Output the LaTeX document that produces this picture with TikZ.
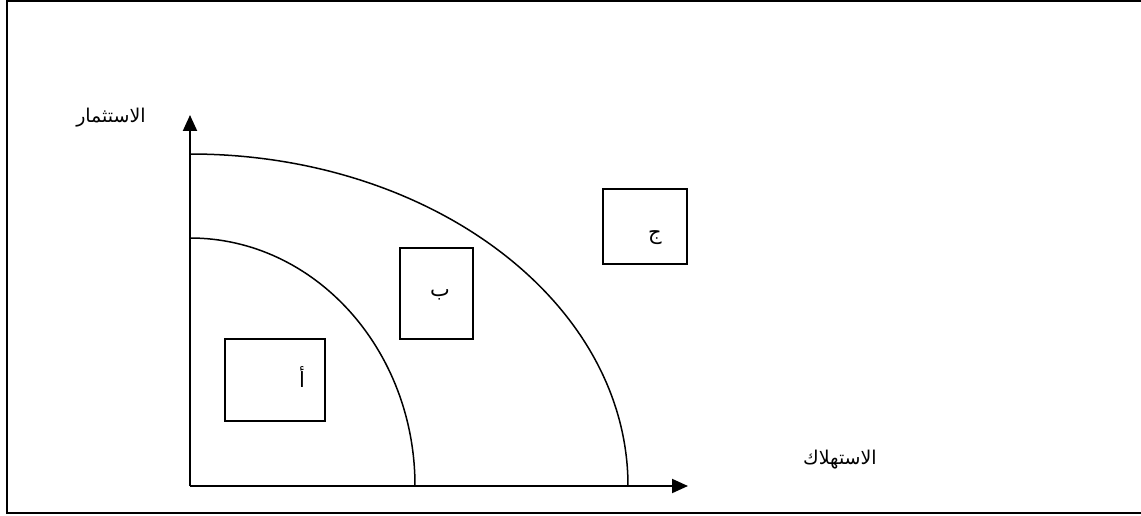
\documentclass[tikz,border=0pt]{standalone}
\usepackage{fontspec}
\newfontfamily\arabicfont[Script=Arabic]{DejaVu Sans}
\TeXXeTstate=1
\usetikzlibrary{arrows.meta}

\begin{document}
\begin{tikzpicture}[
  x=0.5pt, y=0.5pt,
  every node/.style={inner sep=0pt},
  frame/.style={draw=black, line width=1.1pt},
  axis/.style={line width=1pt, -{Triangle[length=8pt,width=7pt]}},
  curve/.style={line width=0.75pt},
  regionbox/.style={
    rectangle, draw=black, line width=0.8pt,
  },
  lbl/.style={font=\arabicfont\fontsize{9.5}{11}\selectfont},
  letter/.style={font=\arabicfont\fontsize{10.5}{12}\selectfont},
]

\useasboundingbox (0,0) rectangle (1141,515);

% ----- outer frame (runs off the right edge) -----
\draw[frame] (1141,514) -- (7,514) -- (7,2) -- (1141,2);

% ----- axes -----
\coordinate (O) at (190,29);
\coordinate (ytip) at (190,400);
\coordinate (xtip) at (688,29);
\draw[axis] (O) -- (ytip);
\draw[axis] (O) -- (xtip);

\node[lbl] (invest) at (111,397) {\beginR الاستثمار\endR};
\node[lbl] (consume) at (840,55) {\beginR الاستهلاك\endR};

% ----- two frontiers -----
\coordinate (innerTop) at (190,277);
\coordinate (outerTop) at (190,361);
\draw[curve] (innerTop) arc[start angle=90, end angle=0, x radius=225, y radius=248];
\draw[curve] (outerTop) arc[start angle=90, end angle=0, x radius=438, y radius=332];

% ----- region boxes -----
\node[regionbox, minimum width=50pt, minimum height=41pt] (A) at (275,135) {};
\node[regionbox, minimum width=36.5pt, minimum height=45.5pt] (B) at (436.5,221.5) {};
\node[regionbox, minimum width=42pt, minimum height=37.5pt] (C) at (645,288.5) {};

\node[letter] (Atxt) at (302,138) {\beginR أ\endR};
\node[letter] (Btxt) at (440,220) {\beginR ب\endR};
\node[letter] (Ctxt) at (655,277) {\beginR ج\endR};

\end{tikzpicture}
\end{document}
